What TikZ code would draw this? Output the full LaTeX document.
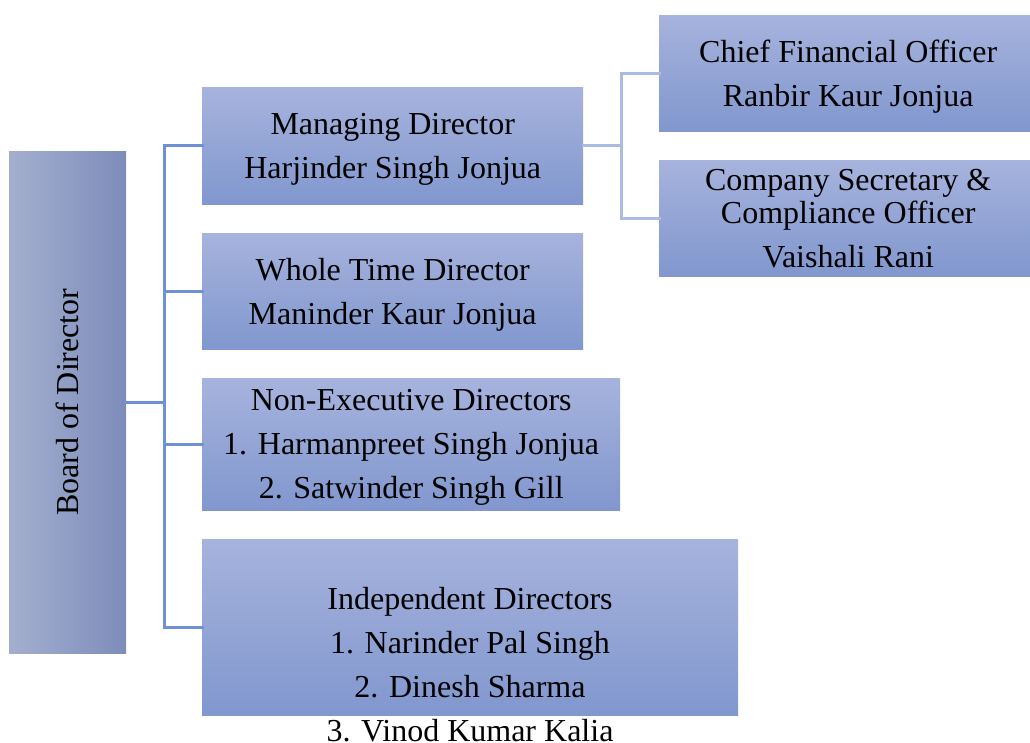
\documentclass[tikz,border=0pt]{standalone}
\usepackage{fontspec}
\setmainfont{Liberation Serif}

\definecolor{boxtop}{HTML}{A6B3DD}
\definecolor{boxbot}{HTML}{8197CE}
\definecolor{brdleft}{HTML}{A4AFCF}
\definecolor{brdright}{HTML}{7D8CBA}
\definecolor{trunkline}{HTML}{6F8FD6}
\definecolor{subline}{HTML}{AABBE4}

\def\gap{38}
\def\txt{\fontsize{32}{44}\selectfont}

\tikzset{
  post/.style={anchor=north west, inner sep=0pt, align=center, text depth=-3pt,
    top color=boxtop, bottom color=boxbot, font=\txt},
  board/.style={anchor=north west, inner sep=0pt,
    left color=brdleft, right color=brdright},
  label/.style={inner sep=0pt, align=center, font=\txt},
  link/.style={draw=trunkline, line width=3pt, line cap=rect},
  sublink/.style={draw=subline, line width=3pt, line cap=rect}
}

\begin{document}
\begin{tikzpicture}[x=1pt,y=-1pt]

\useasboundingbox (0,0) rectangle (1030,742);

%board on the left
\node[board, minimum width=117pt, minimum height=502pt] (board) at (9,151) {};
\node[label, rotate=90] (boardtext) at (board.center) {Board of Director};

%directors
\node[post, minimum width=381pt, minimum height=117pt] (md) at (202,87)
  {Managing Director\\ Harjinder Singh Jonjua};
\node[post, minimum width=381pt, minimum height=116pt] (wtd) at (202,233)
  {Whole Time Director\\ Maninder Kaur Jonjua};
\node[post, minimum width=418pt, minimum height=132pt] (ned) at (202,378)
  {Non-Executive Directors\\ 1. Harmanpreet Singh Jonjua\\ 2. Satwinder Singh Gill};
\node[post, minimum width=536pt, minimum height=176pt] (id) at (202,539) {};
\node[label] (idtext) at (470,665)
  {Independent Directors\\ 1. Narinder Pal Singh\\ 2. Dinesh Sharma\\ 3. Vinod Kumar Kalia};

%officers under the managing director
\node[post, minimum width=378pt, minimum height=116pt] (cfo) at (659,15)
  {Chief Financial Officer\\ Ranbir Kaur Jonjua};
\node[post, minimum width=378pt, minimum height=116pt] (cs) at (659,160)
  {Company Secretary \&\\[-11pt] Compliance Officer\\ Vaishali Rani};

%connectors
\draw[link] (board.east) -- ++(\gap,0) coordinate (spine);
\draw[link] (spine |- md.west) -- (spine |- id.west);
\foreach \n in {md,wtd,ned,id}{
   \draw[link] (spine |- \n.west) -- (\n.west);
}

\draw[sublink] (md.east) -- ++(\gap,0) coordinate (branch);
\draw[sublink] (branch |- cfo.west) -- (branch |- cs.west);
\foreach \n in {cfo,cs}{
   \draw[sublink] (branch |- \n.west) -- (\n.west);
}

\end{tikzpicture}
\end{document}
